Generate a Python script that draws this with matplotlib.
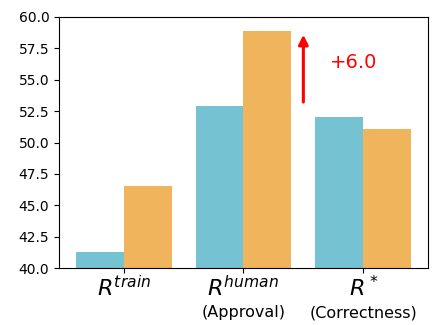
import matplotlib.pyplot as plt
import numpy as np

groups = ["$R^{train}$", "$R^{human}$", "$R^*$"]
sublabels = ["", "(Approval)", "(Correctness)"]
base_vals = [41.3, 52.9, 52.0]
new_vals = [46.5, 58.9, 51.1]
gain = 6.0

blue = "#74c2d2"
orange = "#f0b45c"

fig = plt.figure(figsize=(4.34, 3.25), dpi=100)
ax = fig.add_axes([0.136, 0.175, 0.85, 0.773])

x = np.arange(len(groups))
w = 0.4
ax.bar(x - w / 2, base_vals, w, color=blue)
ax.bar(x + w / 2, new_vals, w, color=orange)

ax.set_ylim(40, 60)
ax.set_yticks(np.arange(40, 60.1, 2.5))
ax.set_xticks(x)
ax.set_xticklabels(groups, fontsize=16)
ax.tick_params(axis="x", pad=1.5)

for xi, s in zip(x, sublabels):
    if s:
        ax.text(xi, -0.178, s, transform=ax.get_xaxis_transform(),
                ha="center", va="center", fontsize=11.5)

# improvement arrow between the second and third group
ax.annotate("", xy=(1.5, base_vals[1] + gain - 0.1), xytext=(1.5, base_vals[1] + 0.1),
            arrowprops=dict(arrowstyle="-|>", color="red", lw=2.2, mutation_scale=14))
ax.text(1.72, 56.4, f"+{gain:.1f}", color="red", fontsize=14, va="center", ha="left")

fig.savefig("out.png")
